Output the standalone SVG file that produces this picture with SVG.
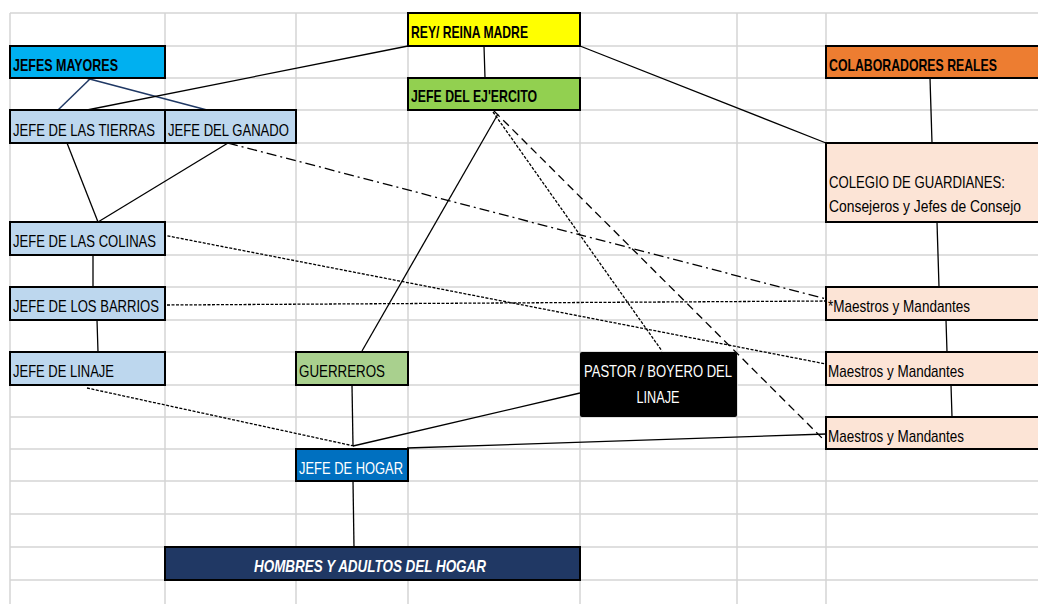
<svg xmlns="http://www.w3.org/2000/svg" width="1038" height="604" viewBox="0 0 1038 604">
<style>
.grid line{stroke:#d4d4d4;stroke-width:1.5}
.box{stroke:#000;stroke-width:2}
.t{font-family:"Liberation Sans Narrow","Liberation Sans",Arial,sans-serif;font-size:17px;fill:#000}
.b{font-weight:bold}
.w{fill:#fff}
.c line{stroke:#000;stroke-width:1.3;fill:none}
.c .navy{stroke:#1f3864;stroke-width:1.5}
.c .dd{stroke-dasharray:10 4 2 4}
.c .dot{stroke-dasharray:3 1.5}
.c .dash{stroke-dasharray:8 5}
</style>
<rect width="1038" height="604" fill="#fff"/>
<g class="grid">
<line x1="10" y1="13" x2="10" y2="604"/>
<line x1="165" y1="13" x2="165" y2="604"/>
<line x1="296" y1="13" x2="296" y2="604"/>
<line x1="408" y1="13" x2="408" y2="604"/>
<line x1="580" y1="13" x2="580" y2="604"/>
<line x1="737" y1="13" x2="737" y2="604"/>
<line x1="826" y1="13" x2="826" y2="604"/>
<line x1="10" y1="13" x2="1038" y2="13"/>
<line x1="10" y1="46" x2="1038" y2="46"/>
<line x1="10" y1="78" x2="1038" y2="78"/>
<line x1="10" y1="110" x2="1038" y2="110"/>
<line x1="10" y1="143" x2="1038" y2="143"/>
<line x1="10" y1="222" x2="1038" y2="222"/>
<line x1="10" y1="255" x2="1038" y2="255"/>
<line x1="10" y1="287" x2="1038" y2="287"/>
<line x1="10" y1="320" x2="1038" y2="320"/>
<line x1="10" y1="352" x2="1038" y2="352"/>
<line x1="10" y1="385" x2="1038" y2="385"/>
<line x1="10" y1="417" x2="1038" y2="417"/>
<line x1="10" y1="449" x2="1038" y2="449"/>
<line x1="10" y1="481" x2="1038" y2="481"/>
<line x1="10" y1="514" x2="1038" y2="514"/>
<line x1="10" y1="547" x2="1038" y2="547"/>
<line x1="10" y1="580" x2="1038" y2="580"/>
</g>
<g id="connectors" class="c">
<line class="navy" x1="92" y1="77" x2="57" y2="111"/>
<line class="navy" x1="82" y1="77" x2="207" y2="110"/>
<line x1="408" y1="46" x2="87" y2="110"/>
<line x1="484" y1="46" x2="485" y2="78"/>
<line x1="580" y1="46" x2="826" y2="143"/>
<line x1="930" y1="78" x2="932" y2="143"/>
<line x1="67" y1="143" x2="98" y2="222"/>
<line x1="228" y1="143" x2="98" y2="222"/>
<line class="dd" x1="228" y1="143" x2="826" y2="299"/>
<line class="dot" x1="163" y1="235" x2="826" y2="364"/>
<line class="dot" x1="167" y1="305" x2="826" y2="301"/>
<line x1="498" y1="114" x2="362" y2="351"/>
<line class="dot" x1="493" y1="112" x2="662" y2="351"/>
<line class="dash" x1="494" y1="111" x2="826" y2="442"/>
<line class="dot" x1="87" y1="388" x2="354" y2="446"/>
<line x1="352" y1="385" x2="353" y2="446"/>
<line x1="580" y1="393" x2="353" y2="446"/>
<line x1="826" y1="434" x2="407" y2="448"/>
<line x1="353" y1="481" x2="354" y2="547"/>
<line x1="937" y1="222" x2="939" y2="287"/>
<line x1="946" y1="320" x2="947" y2="352"/>
<line x1="951" y1="385" x2="952" y2="417"/>
<line x1="93" y1="255" x2="93" y2="287"/>
<line x1="97" y1="320" x2="98" y2="352"/>
</g>
<g id="rey"><rect class="box" x="408" y="13" width="172" height="33" fill="#ffff00"/><text class="t b" x="411" y="38" textLength="117" lengthAdjust="spacingAndGlyphs">REY/ REINA MADRE</text></g>
<g id="jefes-mayores"><rect class="box" x="10" y="46" width="155" height="32" fill="#00b0f0"/><text class="t b" x="13" y="71" textLength="105" lengthAdjust="spacingAndGlyphs">JEFES MAYORES</text></g>
<g id="jefe-ejercito"><rect class="box" x="408" y="78" width="172" height="32" fill="#92d050"/><text class="t b" x="411" y="102" textLength="126" lengthAdjust="spacingAndGlyphs">JEFE DEL EJ'ERCITO</text></g>
<g id="colaboradores"><rect class="box" x="826" y="46" width="220" height="32" fill="#ed7d31"/><text class="t b" x="829" y="71" textLength="168" lengthAdjust="spacingAndGlyphs">COLABORADORES REALES</text></g>
<g id="jefe-tierras"><rect class="box" x="10" y="110" width="155" height="33" fill="#bdd7ee"/><text class="t" x="13" y="136" textLength="142" lengthAdjust="spacingAndGlyphs">JEFE DE LAS TIERRAS</text></g>
<g id="jefe-ganado"><rect class="box" x="165" y="110" width="131" height="33" fill="#bdd7ee"/><text class="t" x="168" y="136" textLength="121" lengthAdjust="spacingAndGlyphs">JEFE DEL GANADO</text></g>
<g id="colegio"><rect class="box" x="826" y="143" width="220" height="79" fill="#fce4d6"/><text class="t" x="829" y="188" textLength="176" lengthAdjust="spacingAndGlyphs">COLEGIO DE GUARDIANES:</text><text class="t" x="829" y="212" textLength="192" lengthAdjust="spacingAndGlyphs">Consejeros y Jefes de Consejo</text></g>
<g id="jefe-colinas"><rect class="box" x="10" y="222" width="155" height="33" fill="#bdd7ee"/><text class="t" x="13" y="247" textLength="143" lengthAdjust="spacingAndGlyphs">JEFE DE LAS COLINAS</text></g>
<g id="jefe-barrios"><rect class="box" x="10" y="287" width="155" height="33" fill="#bdd7ee"/><text class="t" x="13" y="312" textLength="146" lengthAdjust="spacingAndGlyphs">JEFE DE LOS BARRIOS</text></g>
<g id="jefe-linaje"><rect class="box" x="10" y="352" width="155" height="33" fill="#bdd7ee"/><text class="t" x="13" y="377" textLength="101" lengthAdjust="spacingAndGlyphs">JEFE DE LINAJE</text></g>
<g id="guerreros"><rect class="box" x="296" y="352" width="112" height="33" fill="#a9d08e"/><text class="t" x="299" y="377" textLength="86" lengthAdjust="spacingAndGlyphs">GUERREROS</text></g>
<g id="pastor"><rect x="580" y="352" width="157" height="65" rx="2" fill="#000"/><text class="t w" x="658" y="377" text-anchor="middle" textLength="148" lengthAdjust="spacingAndGlyphs">PASTOR / BOYERO DEL</text><text class="t w" x="658" y="403" text-anchor="middle" textLength="43" lengthAdjust="spacingAndGlyphs">LINAJE</text></g>
<g id="maestros1"><rect class="box" x="826" y="287" width="220" height="33" fill="#fce4d6"/><text class="t" x="828" y="312" textLength="142" lengthAdjust="spacingAndGlyphs">*Maestros y Mandantes</text></g>
<g id="maestros2"><rect class="box" x="826" y="352" width="220" height="33" fill="#fce4d6"/><text class="t" x="828" y="377" textLength="136" lengthAdjust="spacingAndGlyphs">Maestros y Mandantes</text></g>
<g id="maestros3"><rect class="box" x="826" y="417" width="220" height="32" fill="#fce4d6"/><text class="t" x="828" y="442" textLength="136" lengthAdjust="spacingAndGlyphs">Maestros y Mandantes</text></g>
<g id="jefe-hogar"><rect class="box" x="296" y="449" width="112" height="32" fill="#0070c0"/><text class="t w" x="299" y="474" textLength="104" lengthAdjust="spacingAndGlyphs">JEFE DE HOGAR</text></g>
<g id="hombres"><rect class="box" x="165" y="547" width="415" height="33" fill="#203864"/><text class="t b w" x="370" y="572" text-anchor="middle" font-style="italic" textLength="232" lengthAdjust="spacingAndGlyphs">HOMBRES Y ADULTOS DEL HOGAR</text></g>
</svg>
